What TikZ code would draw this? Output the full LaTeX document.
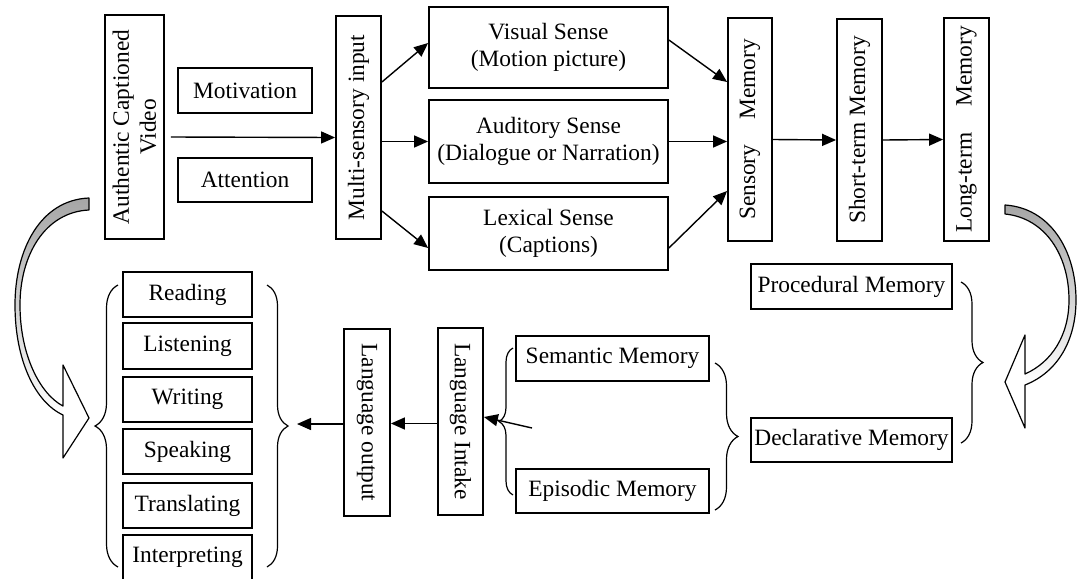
\documentclass[tikz,border=0pt]{standalone}
\usepackage{fontspec}
\setmainfont{Liberation Serif}
\usetikzlibrary{arrows.meta,decorations.pathreplacing,calc}

\begin{document}
\begin{tikzpicture}[x=0.5pt,y=-0.5pt,
  box/.style={draw, line width=0.9pt, inner sep=0pt, align=center,
    font=\fontsize{11.7}{13.5}\selectfont},
  vbox/.style={box, rotate=90, minimum width=#1, minimum height=22.5pt},
  dbox/.style={box, rotate=-90, minimum width=93.5pt, minimum height=23pt},
  sensebox/.style={box, minimum width=119.5pt, minimum height=#1},
  skill/.style={box, minimum width=64.5pt, minimum height=22.5pt},
  membox/.style={box, minimum width=100.5pt, minimum height=22.5pt},
  conn/.style={-{Triangle[length=7pt,width=6pt]}, line width=0.7pt},
  curly/.style={decorate, decoration={brace, amplitude=#1}, line width=0.6pt},
  bigarrow/.style={line width=0.6pt, line join=round}
]
\useasboundingbox (0,0) rectangle (1078,579);

% ---------- top row ----------
% upright-reading boxes are turned by 90 degrees: their north side faces left
\node[box, rotate=90, minimum width=112pt, minimum height=29.5pt] (acv) at (134.5,127)
  {Authentic Captioned\\Video};
\node[box, minimum width=67pt, minimum height=22.5pt] (mot) at (245,90.5) {Motivation};
\node[box, minimum width=67pt, minimum height=22pt] (att) at (245,180) {Attention};
\node[vbox=111.5pt] (msi) at (358.5,127.5) {Multi-sensory input};

\node[sensebox=40.5pt] (vis) at (548.5,47.5) {Visual Sense\\(Motion picture)};
\node[sensebox=41.5pt] (aud) at (548.5,141.5) {Auditory Sense\\(Dialogue or Narration)};
\node[sensebox=36.5pt] (lex) at (548.5,233.5) {Lexical Sense\\(Captions)};

\node[vbox=111.5pt, minimum height=22pt] (sen) at (750,129.5) {Sensory\hspace{12.5pt}Memory};
\node[vbox=111pt] (stm) at (859.5,130) {Short-term Memory};
\node[vbox=111.5pt] (ltm) at (966.5,129.5) {Long-term\hspace{13pt}Memory};

\draw[conn] ([yshift=-5pt]acv.south) ++(3pt,0) -- ([yshift=-5pt]msi.north);
\draw[conn] ([yshift=22.75pt]msi.south) -- ([yshift=2.25pt]vis.west);
\draw[conn] (msi.south |- aud.west) -- (aud.west);
\draw[conn] ([yshift=-41.75pt]msi.south) -- ([yshift=-7.25pt]lex.west);

\draw[conn] ([yshift=3.75pt]vis.east) -- ([yshift=23.75pt]sen.north);
\draw[conn] (aud.east) -- (aud.east -| sen.north);
\draw[conn] ([yshift=-7.25pt]lex.east) -- ([yshift=-30.75pt]sen.north);
\draw[conn] ([yshift=-5pt]sen.south) -- ([yshift=-5pt]stm.north);
\draw[conn] ([yshift=-5pt]stm.south) -- ([yshift=-5pt]ltm.north);

% ---------- memory types ----------
\node[membox] (proc) at (851.5,286.5) {Procedural Memory};
\node[membox, minimum height=22pt] (decl) at (851.5,440) {Declarative Memory};
\node[box, minimum width=96.5pt, minimum height=22.5pt] (sem) at (612.5,358.5) {Semantic Memory};
\node[box, minimum width=96.5pt, minimum height=22pt] (epi) at (612.5,491) {Episodic Memory};

\draw[curly=11pt] (961,282) -- (961,443);
\draw[curly=11.5pt] (715,363) -- (715,510);
\draw[curly=7pt] (513,495) -- (513,348);

% ---------- language intake / output ----------
% boxes turned by -90 degrees: their north side faces right
\node[dbox, minimum height=22.5pt] (lin) at (460.5,421.5) {Language Intake};
\node[dbox] (lout) at (367,422.5) {Language output};

\coordinate (mem) at (532,428);
\draw[conn] (mem) -- ([yshift=2.25pt]lin.north);
\draw[conn] ([yshift=-1pt]lin.south) -- ([yshift=-1pt]lin.south -| lout.north);
\coordinate (skl) at (297,424);
\draw[conn] (lout.south |- skl) -- (skl);

% ---------- language skills ----------
\node[skill] (rd) at (187.5,294.5) {Reading};
\node[skill, minimum height=23pt] (ls) at (187.5,346) {Listening};
\node[skill] (wr) at (187.5,399.5) {Writing};
\node[skill] (sp) at (187.5,451.5) {Speaking};
\node[skill] (tr) at (187.5,505.5) {Translating};
\node[skill] (ip) at (187.5,557.5) {Interpreting};

\draw[curly=11.5pt] (118,567) -- (118,285);
\draw[curly=10.5pt] (267,285) -- (267,567);

% ---------- curved block arrows ----------
% left: from the video source down to the skills
\shade[top color=black!35, bottom color=white]
  (89,198) .. controls (40,200) and (15,250) .. (15,305)
  .. controls (15,360) and (35,402) .. (63,415) -- (63,406)
  .. controls (40,394) and (20,355) .. (20,305)
  .. controls (20,255) and (45,212) .. (89,210) -- cycle;
\fill[white] (63,365) -- (89,418) -- (63,458) -- cycle;
\draw[bigarrow]
  (89,198) .. controls (40,200) and (15,250) .. (15,305)
  .. controls (15,360) and (35,402) .. (63,415)
  -- (63,458) -- (89,418) -- (63,365) -- (63,406)
  .. controls (40,394) and (20,355) .. (20,305)
  .. controls (20,255) and (45,212) .. (89,210) -- cycle;

% right: from long-term memory down to the memory types
\shade[top color=black!35, bottom color=white]
  (1005,205) .. controls (1050,208) and (1076,250) .. (1076,300)
  .. controls (1076,340) and (1058,372) .. (1025,385) -- (1025,374)
  .. controls (1052,362) and (1069,335) .. (1069,300)
  .. controls (1069,255) and (1045,218) .. (1005,214) -- cycle;
\fill[white] (1025,335) -- (1005,382) -- (1025,428) -- cycle;
\draw[bigarrow]
  (1005,205) .. controls (1050,208) and (1076,250) .. (1076,300)
  .. controls (1076,340) and (1058,372) .. (1025,385)
  -- (1025,428) -- (1005,382) -- (1025,335) -- (1025,374)
  .. controls (1052,362) and (1069,335) .. (1069,300)
  .. controls (1069,255) and (1045,218) .. (1005,214) -- cycle;
\end{tikzpicture}
\end{document}
